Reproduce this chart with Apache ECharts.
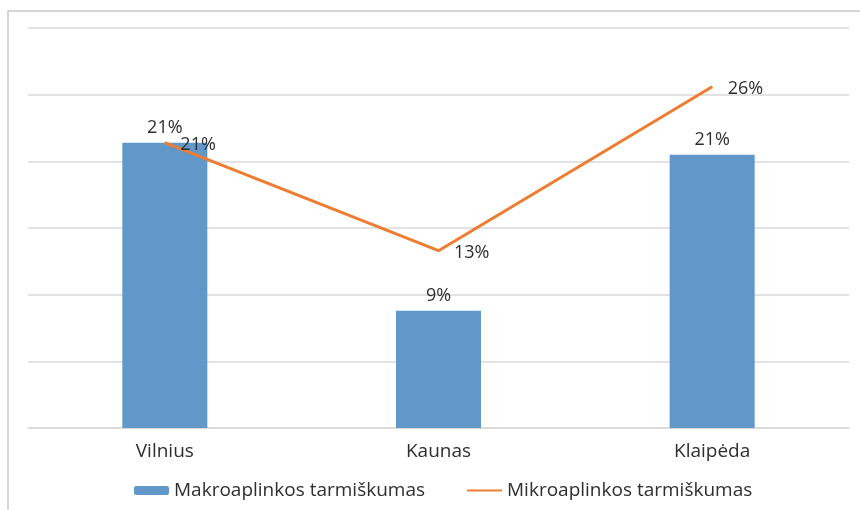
<!DOCTYPE html>
<html>
<head>
<meta charset="utf-8">
<script src="https://cdn.jsdelivr.net/npm/echarts@6/dist/echarts.min.js"></script>
<style>
  html, body { margin: 0; padding: 0; background: #fff; }
  #main { width: 860px; height: 510px; }
</style>
</head>
<body>
<div id="main"></div>
<script>
// duomenys
var cities = ['Vilnius', 'Kaunas', 'Klaipėda'];
var makro = [21.4, 8.8, 20.5];
var mikro = [21.4, 13.3, 25.6];
var seriesNames = ['Makroaplinkos tarmiškumas', 'Mikroaplinkos tarmiškumas'];

var myChart = echarts.init(document.getElementById('main'));
var font = '"Open Sans", "Noto Sans", sans-serif';
var txt = '#2e2e2e';
var pct = function (p) { return Math.round(p.value) + '%'; };

var option = {
    backgroundColor: '#fff',
    textStyle: { fontFamily: font },
    animation: false,
    graphic: [{
        type: 'rect',
        shape: { x: 8, y: 11, width: 900, height: 600 },
        style: { fill: 'none', stroke: '#c9c9c9', lineWidth: 1.5 },
        silent: true
    }],
    grid: { left: 28, right: 11, top: 28, bottom: 82 },
    legend: {
        data: [
            { name: seriesNames[0] },
            { name: seriesNames[1], itemStyle: { opacity: 0 } }
        ],
        left: 129,
        top: 476,
        itemWidth: 35,
        itemHeight: 9,
        itemGap: 41,
        textStyle: { fontSize: 19, color: txt, fontFamily: font }
    },
    xAxis: {
        type: 'category',
        data: cities,
        axisTick: { show: false },
        axisLine: { lineStyle: { color: '#d9d9d9', width: 1.5 } },
        axisLabel: { fontSize: 19, color: txt, margin: 14, fontFamily: font }
    },
    yAxis: {
        type: 'value',
        min: 0,
        max: 30,
        interval: 5,
        axisLabel: { show: false },
        axisLine: { show: false },
        axisTick: { show: false },
        splitLine: { lineStyle: { color: '#d9d9d9', width: 1.5 } }
    },
    series: [{
        name: seriesNames[0],
        type: 'bar',
        data: makro,
        barWidth: 85,
        itemStyle: { color: '#6197c9' },
        label: {
            show: true,
            position: 'top',
            distance: 6,
            fontSize: 18,
            color: txt,
            fontFamily: font,
            formatter: pct
        }
    }, {
        name: seriesNames[1],
        type: 'line',
        data: mikro,
        symbol: 'circle',
        symbolSize: 1,
        lineStyle: { color: '#ed7d31', width: 3 },
        itemStyle: { color: '#ed7d31' },
        label: {
            show: true,
            position: 'right',
            distance: 15,
            offset: [0, 2],
            fontSize: 18,
            color: txt,
            fontFamily: font,
            formatter: pct
        }
    }]
};

myChart.setOption(option);
</script>
</body>
</html>
